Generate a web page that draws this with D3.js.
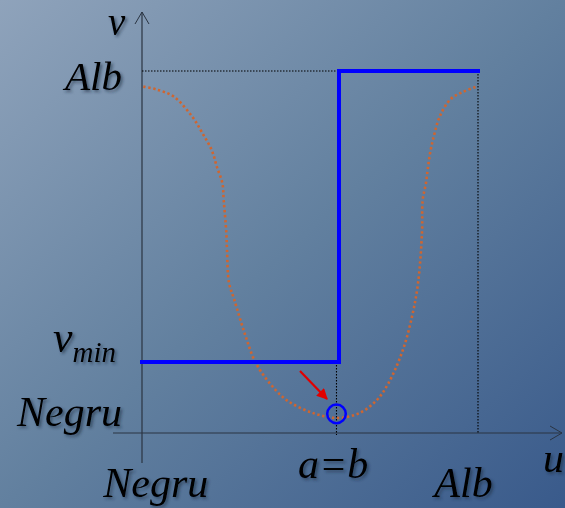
<!DOCTYPE html>
<html><head><meta charset="utf-8">
<script src="https://cdn.jsdelivr.net/npm/d3@7"></script>
<style>
html,body{margin:0;padding:0;width:565px;height:508px;overflow:hidden;}
svg{display:block;}
text{font-family:"Liberation Serif","Times New Roman",serif;font-style:italic;fill:#000;}
</style></head>
<body>
<script>
// ---- data (gray levels 0 = Negru, 255 = Alb) ----
const levelNegru = 0;
const levelAlb = 255;
const levelAB = 149.5;    // a = b
const levelVmin = 50;     // v_min
const curveU = [1, 11, 24, 38, 46, 53, 57, 61, 62, 64, 64.5, 66, 70, 78, 86, 97, 110, 130, 148, 165, 178, 187, 198, 205, 209.5, 212.5, 213, 215.5, 217, 219, 222, 226, 234, 243, 254];
const curveV = [244, 242, 237, 223, 211, 199, 187, 176, 164, 141, 129, 106, 94, 70, 50, 35, 23, 14, 10.6, 14, 23, 35, 58.5, 82.4, 105.7, 141, 164, 176, 187, 199, 211, 223, 235, 240, 244];
const stepU = [levelNegru, levelAB, levelAB, levelAlb];
const stepV = [levelVmin, levelVmin, levelAlb, levelAlb];
const xTickLabels = ["Negru", "a=b", "Alb"];
const xTickValues = [levelNegru + 10.5, levelAB - 4.5, levelAlb - 11];
const yLabelAlb = "Alb";
const yLabelNegru = "Negru";

const W = 565, H = 508;
const x = d3.scaleLinear().domain([0, 255]).range([142, 478]);
const y = d3.scaleLinear().domain([0, 255]).range([433, 71]);

const svg = d3.select("body").append("svg").attr("width", W).attr("height", H);
const defs = svg.append("defs");
const g = defs.append("linearGradient").attr("id", "bg").attr("x1", 0).attr("y1", 0).attr("x2", 1).attr("y2", 1);
g.append("stop").attr("offset", "0%").attr("stop-color", "#8fa3bb");
g.append("stop").attr("offset", "50%").attr("stop-color", "#62809f");
g.append("stop").attr("offset", "100%").attr("stop-color", "#395a8b");
const f = defs.append("filter").attr("id", "sh").attr("x", "-20%").attr("y", "-20%").attr("width", "150%").attr("height", "150%");
f.append("feDropShadow").attr("dx", 2).attr("dy", 2).attr("stdDeviation", 1.5).attr("flood-color", "#1a2a40").attr("flood-opacity", 0.6);
defs.append("marker").attr("id", "ah").attr("viewBox", "0 0 10 10").attr("refX", 9).attr("refY", 5)
  .attr("markerWidth", 5.5).attr("markerHeight", 5).attr("orient", "auto")
  .append("path").attr("d", "M0,0L10,5L0,10z").attr("fill", "#e00000");

svg.append("rect").attr("width", W).attr("height", H).attr("fill", "url(#bg)");

const axisColor = "#2a3442";
// y axis
svg.append("line").attr("x1", x(0)).attr("x2", x(0)).attr("y1", 12).attr("y2", 463)
  .attr("stroke", axisColor).attr("stroke-width", 1.2);
svg.append("path").attr("d", `M${x(0)-7},${24}L${x(0)},${12}L${x(0)+7},${24}`)
  .attr("fill", "none").attr("stroke", axisColor).attr("stroke-width", 1);
// x axis
svg.append("line").attr("x1", 113).attr("x2", 562).attr("y1", y(0)).attr("y2", y(0))
  .attr("stroke", axisColor).attr("stroke-width", 1.2);
svg.append("path").attr("d", `M${550},${y(0)-7}L${562},${y(0)}L${550},${y(0)+7}`)
  .attr("fill", "none").attr("stroke", axisColor).attr("stroke-width", 1);

// dotted guide lines
const guide = (x1, y1, x2, y2) => svg.append("line").attr("x1", x1).attr("y1", y1).attr("x2", x2).attr("y2", y2)
  .attr("stroke", "#000").attr("stroke-width", 1.1).attr("stroke-dasharray", "1.5,1.5");
guide(x(0), y(levelAlb), x(levelAB), y(levelAlb));
guide(x(levelAlb), y(levelAlb), x(levelAlb), y(0) + 1);
guide(x(levelAB) - 2.5, y(levelVmin), x(levelAB) - 2.5, y(0) + 2);

// orange dotted curve
const pts = curveU.map((u, i) => [u, curveV[i]]);
svg.append("path").datum(pts)
  .attr("d", d3.line().x(d => x(d[0])).y(d => y(d[1])).curve(d3.curveCatmullRom.alpha(0.5)))
  .attr("fill", "none").attr("stroke", "#d0652f").attr("stroke-width", 2.6).attr("stroke-dasharray", "2.4,2.6");

// blue step function
const sp = stepU.map((u, i) => [u, stepV[i]]);
svg.append("path").datum(sp)
  .attr("d", d3.line().x(d => x(d[0])).y(d => y(d[1])))
  .attr("fill", "none").attr("stroke", "#0000ff").attr("stroke-width", 4).attr("stroke-linejoin", "miter").attr("stroke-linecap", "square");

// circle at minimum
svg.append("circle").attr("cx", x(levelAB) - 2.5).attr("cy", y(13.5)).attr("r", 9.3)
  .attr("fill", "none").attr("stroke", "#0000ff").attr("stroke-width", 2.5);

// red arrow
svg.append("line").attr("x1", x(levelAB) - 39).attr("y1", y(levelVmin) + 9).attr("x2", x(levelAB) - 12).attr("y2", y(levelVmin) + 37)
  .attr("stroke", "#e00000").attr("stroke-width", 2.2).attr("marker-end", "url(#ah)");

// labels
const lbl = (t, xx, yy, size, anchor) => svg.append("text").attr("x", xx).attr("y", yy)
  .attr("font-size", size).attr("text-anchor", anchor || "start").attr("filter", "url(#sh)").text(t);
lbl("v", 108, 35, 39);
lbl(yLabelAlb, 65, 90, 41);
const vm = svg.append("text").attr("x", 53).attr("y", 352).attr("font-size", 44).attr("filter", "url(#sh)");
vm.append("tspan").text("v");
vm.append("tspan").attr("font-size", 29).attr("dy", 10).text("min");
lbl(yLabelNegru, 17, 426, 42);
xTickLabels.forEach((t, i) => {
  lbl(t, x(xTickValues[i]), i === 1 ? 478 : 497, 42, "middle");
});
lbl("u", 543, 472, 42);
</script>
</body></html>
